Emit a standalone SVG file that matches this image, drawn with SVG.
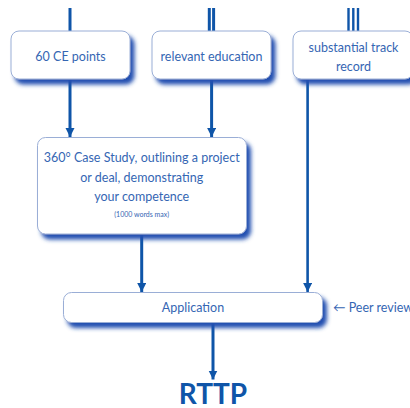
<svg xmlns="http://www.w3.org/2000/svg" width="410" height="408" viewBox="0 0 410 408">
<style>
.box{fill:#fff;stroke:#9aaed6;stroke-width:1;filter:url(#sh)}
.t{font-family:"Lato","Liberation Sans",sans-serif;fill:#3566b3;text-anchor:middle;font-size:12.5px}
.ln{stroke:#0f55a8;stroke-width:3;fill:none}
.ar{stroke:#0f55a8;stroke-width:3;fill:none;marker-end:url(#ah)}
</style>
<defs>
<filter id="sh" x="-10%" y="-20%" width="130%" height="160%">
<feDropShadow dx="4" dy="5" stdDeviation="2.3" flood-color="#2450b0" flood-opacity="1"/>
</filter>
<marker id="ah" markerUnits="userSpaceOnUse" markerWidth="9" markerHeight="10" refX="9" refY="4.5" orient="auto">
<path d="M0,0 L9,4.5 L0,9 z" fill="#0f55a8"/>
</marker>
</defs>
<rect width="410" height="408" fill="#fff"/>
<g id="connectors">
<line class="ln" x1="70" y1="8" x2="70" y2="31"/>
<line class="ln" x1="209.3" y1="8" x2="209.3" y2="31"/>
<line class="ln" x1="213.6" y1="8" x2="213.6" y2="31"/>
<line class="ln" x1="348.5" y1="8" x2="348.5" y2="31" style="stroke-width:2.4"/>
<line class="ln" x1="353.3" y1="8" x2="353.3" y2="31" style="stroke-width:2.4"/>
<line class="ln" x1="358" y1="8" x2="358" y2="31" style="stroke-width:2.4"/>
<line class="ar" x1="70" y1="79" x2="70" y2="137"/>
<line class="ar" x1="211.6" y1="79" x2="211.6" y2="137"/>
<line class="ar" x1="141.7" y1="234" x2="141.7" y2="292"/>
<line class="ar" x1="307.6" y1="79" x2="307.6" y2="292" style="stroke-width:2.6"/>
<line class="ar" x1="213" y1="323" x2="213" y2="379.5"/>
</g>
<g id="n1"><rect class="box" x="11" y="31" width="119" height="48" rx="8"/><text class="t" x="70.5" y="61">60 CE points</text></g>
<g id="n2"><rect class="box" x="152" y="31" width="119" height="48" rx="8"/><text class="t" x="211.5" y="61">relevant education</text></g>
<g id="n3"><rect class="box" x="293" y="31" width="120" height="48" rx="8"/><text class="t" x="353.5" y="52">substantial track</text><text class="t" x="353.5" y="71">record</text></g>
<g id="n4"><rect class="box" x="37.5" y="137.5" width="209" height="96.5" rx="8"/>
<text class="t" x="141.7" y="162">360° Case Study, outlining a project</text>
<text class="t" x="141.7" y="181.5">or deal, demonstrating</text>
<text class="t" x="141.7" y="200.5">your competence</text>
<text class="t" x="141.7" y="217" style="font-size:7px">(1000 words max)</text></g>
<g id="n5"><rect class="box" x="63.5" y="292.5" width="259" height="30" rx="8"/><text class="t" x="193" y="312">Application</text></g>
<g id="n6"><text class="t" x="333" y="312" style="text-anchor:start">← Peer review</text></g>
<g id="n7"><text x="213" y="403.5" style="font-family:'Lato','Liberation Sans',sans-serif;font-weight:bold;font-size:28px;fill:#0f55a8;text-anchor:middle">RTTP</text></g>
</svg>
